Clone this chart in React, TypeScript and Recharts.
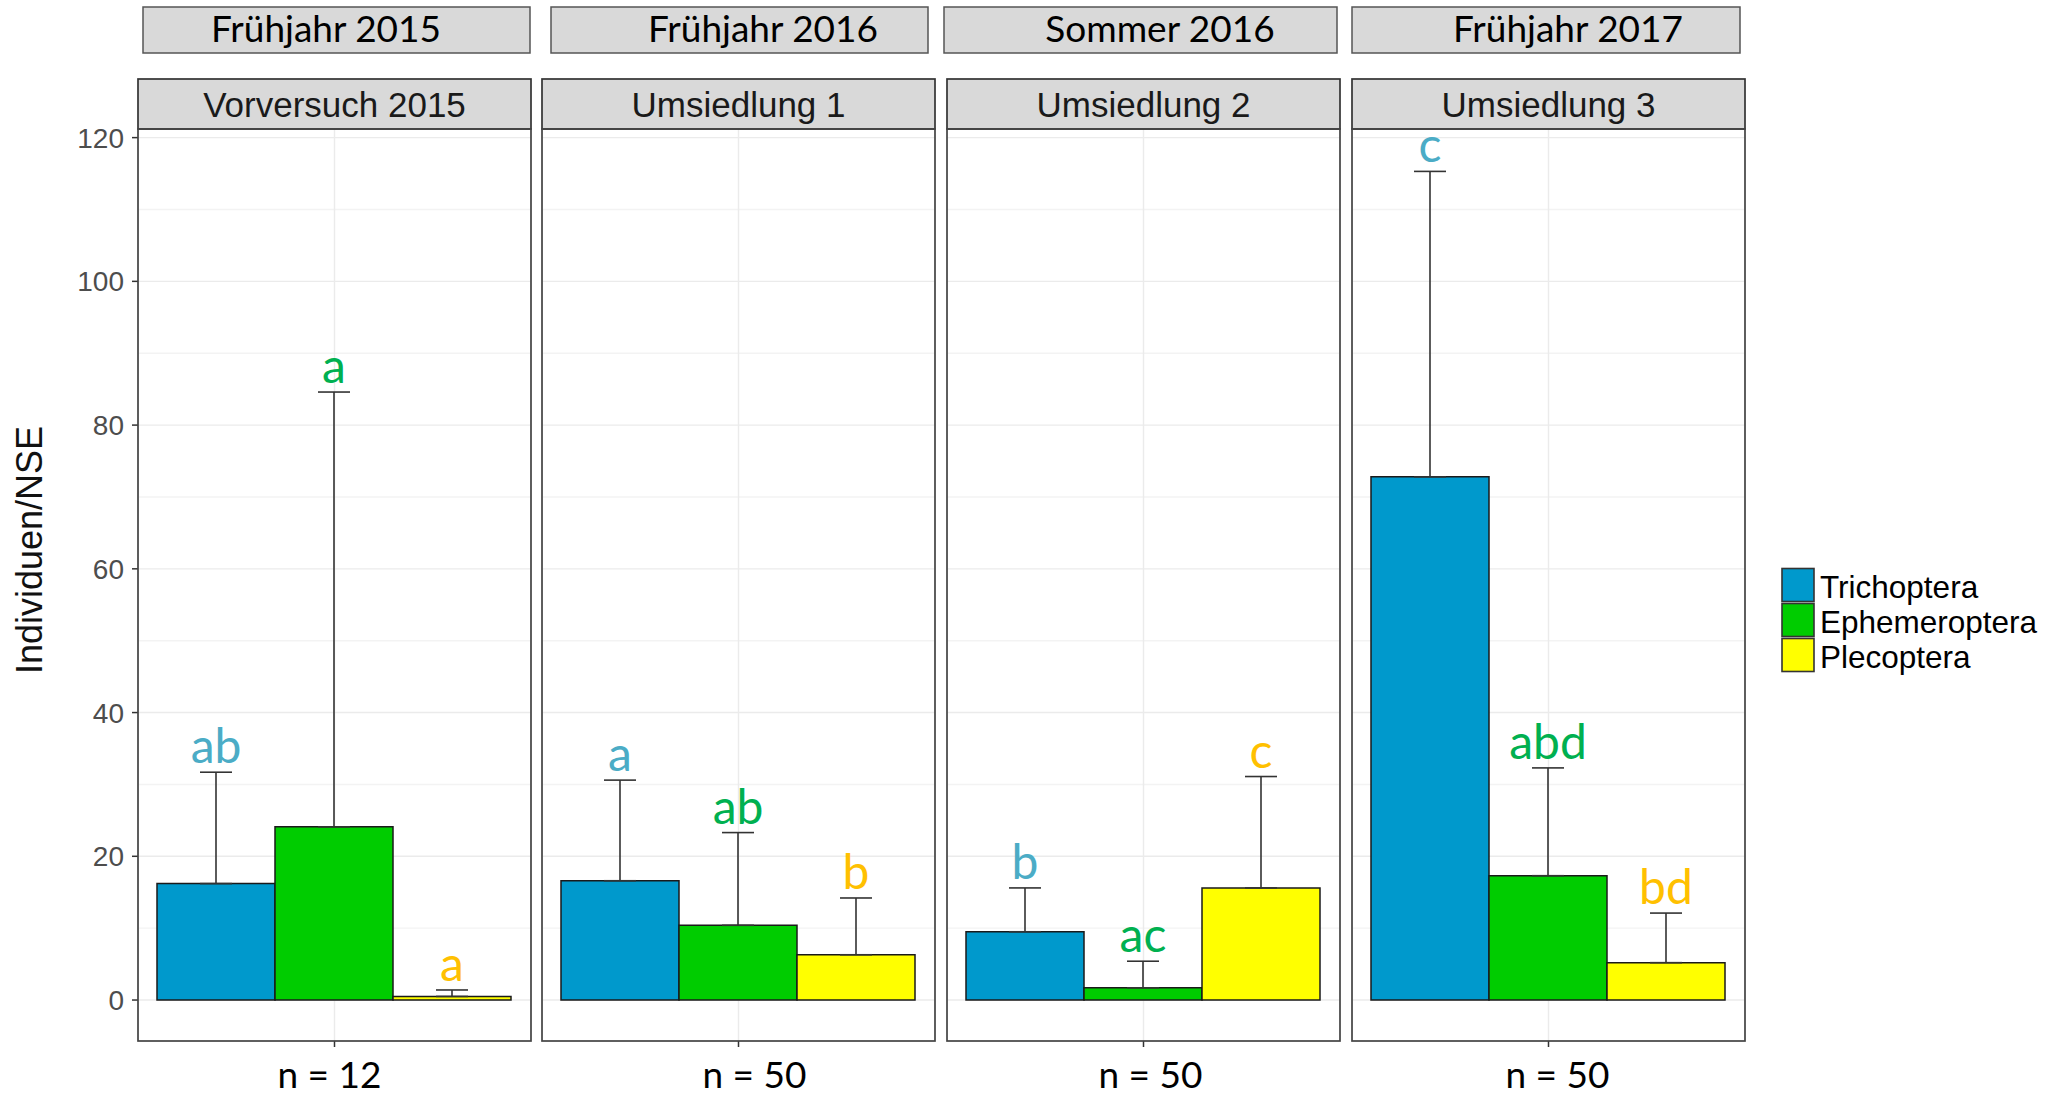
import React from 'react';
import { BarChart, Bar, XAxis, YAxis, CartesianGrid, ErrorBar, LabelList } from 'recharts';

// ---------- data ----------
const groups = ['Vorversuch 2015', 'Umsiedlung 1', 'Umsiedlung 2', 'Umsiedlung 3'];
const seasons = ['Frühjahr 2015', 'Frühjahr 2016', 'Sommer 2016', 'Frühjahr 2017'];
const sampleSizes = ['n = 12', 'n = 50', 'n = 50', 'n = 50'];
const taxa = ['Trichoptera', 'Ephemeroptera', 'Plecoptera'];

const trichopteraMean = [16.2, 16.6, 9.5, 72.8];
const trichopteraUpper = [31.7, 30.6, 15.6, 115.3];
const ephemeropteraMean = [24.1, 10.4, 1.7, 17.3];
const ephemeropteraUpper = [84.6, 23.3, 5.4, 32.3];
const plecopteraMean = [0.5, 6.3, 15.6, 5.2];
const plecopteraUpper = [1.4, 14.2, 31.1, 12.1];

const trichopteraLetters = ['ab', 'a', 'b', 'c'];
const ephemeropteraLetters = ['a', 'ab', 'ac', 'abd'];
const plecopteraLetters = ['a', 'b', 'c', 'bd'];

const yTicks = [0, 20, 40, 60, 80, 100, 120];
const minorGrid = [10, 30, 50, 70, 90, 110];
const yDomain = [-5.7, 121.2];

// ---------- styles / layout ----------
const ARIAL = '"Liberation Sans", Arial, sans-serif';
const CALIBRI = 'Lato, "Open Sans", sans-serif';
const fills = ['#0099CC', '#00CC00', '#FFFF00'];
const letterColors = ['#4BACC6', '#00B050', '#FFC000'];
const keys = ['tri', 'eph', 'ple'];

const PANEL_LEFT = [138, 542, 947, 1352];
const PANEL_W = 393;
const PLOT_TOP = 129;
const PLOT_H = 912;
const AXIS_H = 55;
const TOP_PAD = 60;
const STRIP_TOP = 79;
const STRIP_H = 50;
const TOP_BOX_X = [143, 551, 944, 1352];
const TOP_BOX_W = [387, 377, 393, 388];
const TOP_TEXT_X = [326, 763, 1160, 1568];
const N_LABEL_SHIFT = [-5, 16, 7, 9];

const means = [trichopteraMean, ephemeropteraMean, plecopteraMean];
const uppers = [trichopteraUpper, ephemeropteraUpper, plecopteraUpper];
const letters = [trichopteraLetters, ephemeropteraLetters, plecopteraLetters];

function rowFor(i: number) {
  const row: any = { cat: sampleSizes[i] };
  keys.forEach((k, s) => {
    row[k] = means[s][i];
    row[k + 'Err'] = [0, uppers[s][i] - means[s][i]];
  });
  return row;
}

function makeLetter(panel: number, s: number) {
  return (p: any) => {
    const { x, y, width, height } = p;
    const mean = means[s][panel];
    const upper = uppers[s][panel];
    const base = y + height;
    const ppu = height / mean;
    const topY = base - upper * ppu;
    return (
      <text
        x={x + width / 2}
        y={topY - 9}
        textAnchor="middle"
        fontFamily={CALIBRI}
        fontSize={48}
        fill={letterColors[s]}
      >
        {letters[s][panel]}
      </text>
    );
  };
}

function makeNTick(panel: number) {
  return (p: any) => {
    const { x, y, payload } = p;
    return (
      <text
        x={x + N_LABEL_SHIFT[panel]}
        y={y}
        dy="0.71em"
        textAnchor="middle"
        fontFamily={CALIBRI}
        fontSize={37}
        fill="#000"
      >
        {payload.value}
      </text>
    );
  };
}

function Panel({ i }: { i: number }) {
  const first = i === 0;
  const width = first ? PANEL_LEFT[0] + PANEL_W : PANEL_W;
  return (
    <div style={{ position: 'absolute', left: first ? 0 : PANEL_LEFT[i], top: PLOT_TOP - TOP_PAD }}>
      <BarChart
        width={width}
        height={TOP_PAD + PLOT_H + AXIS_H}
        data={[rowFor(i)]}
        margin={{ top: TOP_PAD, right: 0, bottom: 0, left: 0 }}
        barGap={0}
        barCategoryGap={19}
      >
        <CartesianGrid horizontalValues={minorGrid} vertical={false} stroke="#f3f3f3" strokeWidth={1.4} />
        <CartesianGrid horizontalValues={yTicks} stroke="#ebebeb" strokeWidth={1.4} />
        <XAxis
          dataKey="cat"
          axisLine={false}
          tickLine={{ stroke: '#333', strokeWidth: 1.5 }}
          tickSize={6}
          tickMargin={15}
          height={AXIS_H}
          interval={0}
          tick={makeNTick(i)}
        />
        <YAxis
          type="number"
          domain={yDomain}
          ticks={yTicks}
          allowDataOverflow
          hide={!first}
          width={PANEL_LEFT[0]}
          axisLine={false}
          tickSize={6}
          tickMargin={8}
          tickLine={{ stroke: '#333', strokeWidth: 1.5 }}
          tick={{ fontFamily: ARIAL, fontSize: 28, fill: '#4d4d4d' }}
        />
        {keys.map((k, s) => (
          <Bar key={k} dataKey={k} fill={fills[s]} stroke="#1a1a1a" strokeWidth={1.5} isAnimationActive={false}>
            <ErrorBar dataKey={k + 'Err'} direction="y" width={16} stroke="#333" strokeWidth={1.6} />
            <LabelList dataKey={k} content={makeLetter(i, s)} />
          </Bar>
        ))}
      </BarChart>
    </div>
  );
}

export default function App() {
  return (
    <div
      style={{
        position: 'absolute',
        left: 0,
        top: 0,
        width: 2067,
        height: 1096,
        background: '#fff',
        overflow: 'hidden',
      }}
    >
      {groups.map((_, i) => (
        <Panel key={i} i={i} />
      ))}
      <svg
        width={2067}
        height={1096}
        style={{ position: 'absolute', left: 0, top: 0, pointerEvents: 'none' }}
      >
        {/* season boxes */}
        {seasons.map((s, i) => (
          <g key={'season' + i}>
            <rect x={TOP_BOX_X[i]} y={7} width={TOP_BOX_W[i]} height={46} fill="#d9d9d9" stroke="#555" strokeWidth={1.5} />
            <text x={TOP_TEXT_X[i]} y={42} textAnchor="middle" fontFamily={CALIBRI} fontSize={37} fill="#000">
              {s}
            </text>
          </g>
        ))}
        {/* strips and panel borders */}
        {groups.map((g, i) => (
          <g key={'strip' + i}>
            <rect x={PANEL_LEFT[i]} y={STRIP_TOP} width={PANEL_W} height={STRIP_H} fill="#d9d9d9" stroke="#333" strokeWidth={1.7} />
            <text
              x={PANEL_LEFT[i] + PANEL_W / 2}
              y={117}
              textAnchor="middle"
              fontFamily={ARIAL}
              fontSize={35}
              fill="#1a1a1a"
            >
              {g}
            </text>
            <rect x={PANEL_LEFT[i]} y={PLOT_TOP} width={PANEL_W} height={PLOT_H} fill="none" stroke="#444" strokeWidth={1.7} />
          </g>
        ))}
        {/* y-axis title */}
        <text
          x={42}
          y={550}
          transform="rotate(-90 42 550)"
          textAnchor="middle"
          fontFamily={ARIAL}
          fontSize={36}
          fill="#111"
        >
          Individuen/NSE
        </text>
        {/* legend */}
        {taxa.map((t, s) => (
          <g key={'leg' + t}>
            <rect x={1782} y={568.5 + s * 35} width={32} height={33} fill={fills[s]} stroke="#333" strokeWidth={1.6} />
            <text x={1820} y={597.5 + s * 35} fontFamily={ARIAL} fontSize={31.5} fill="#000">
              {t}
            </text>
          </g>
        ))}
      </svg>
    </div>
  );
}
